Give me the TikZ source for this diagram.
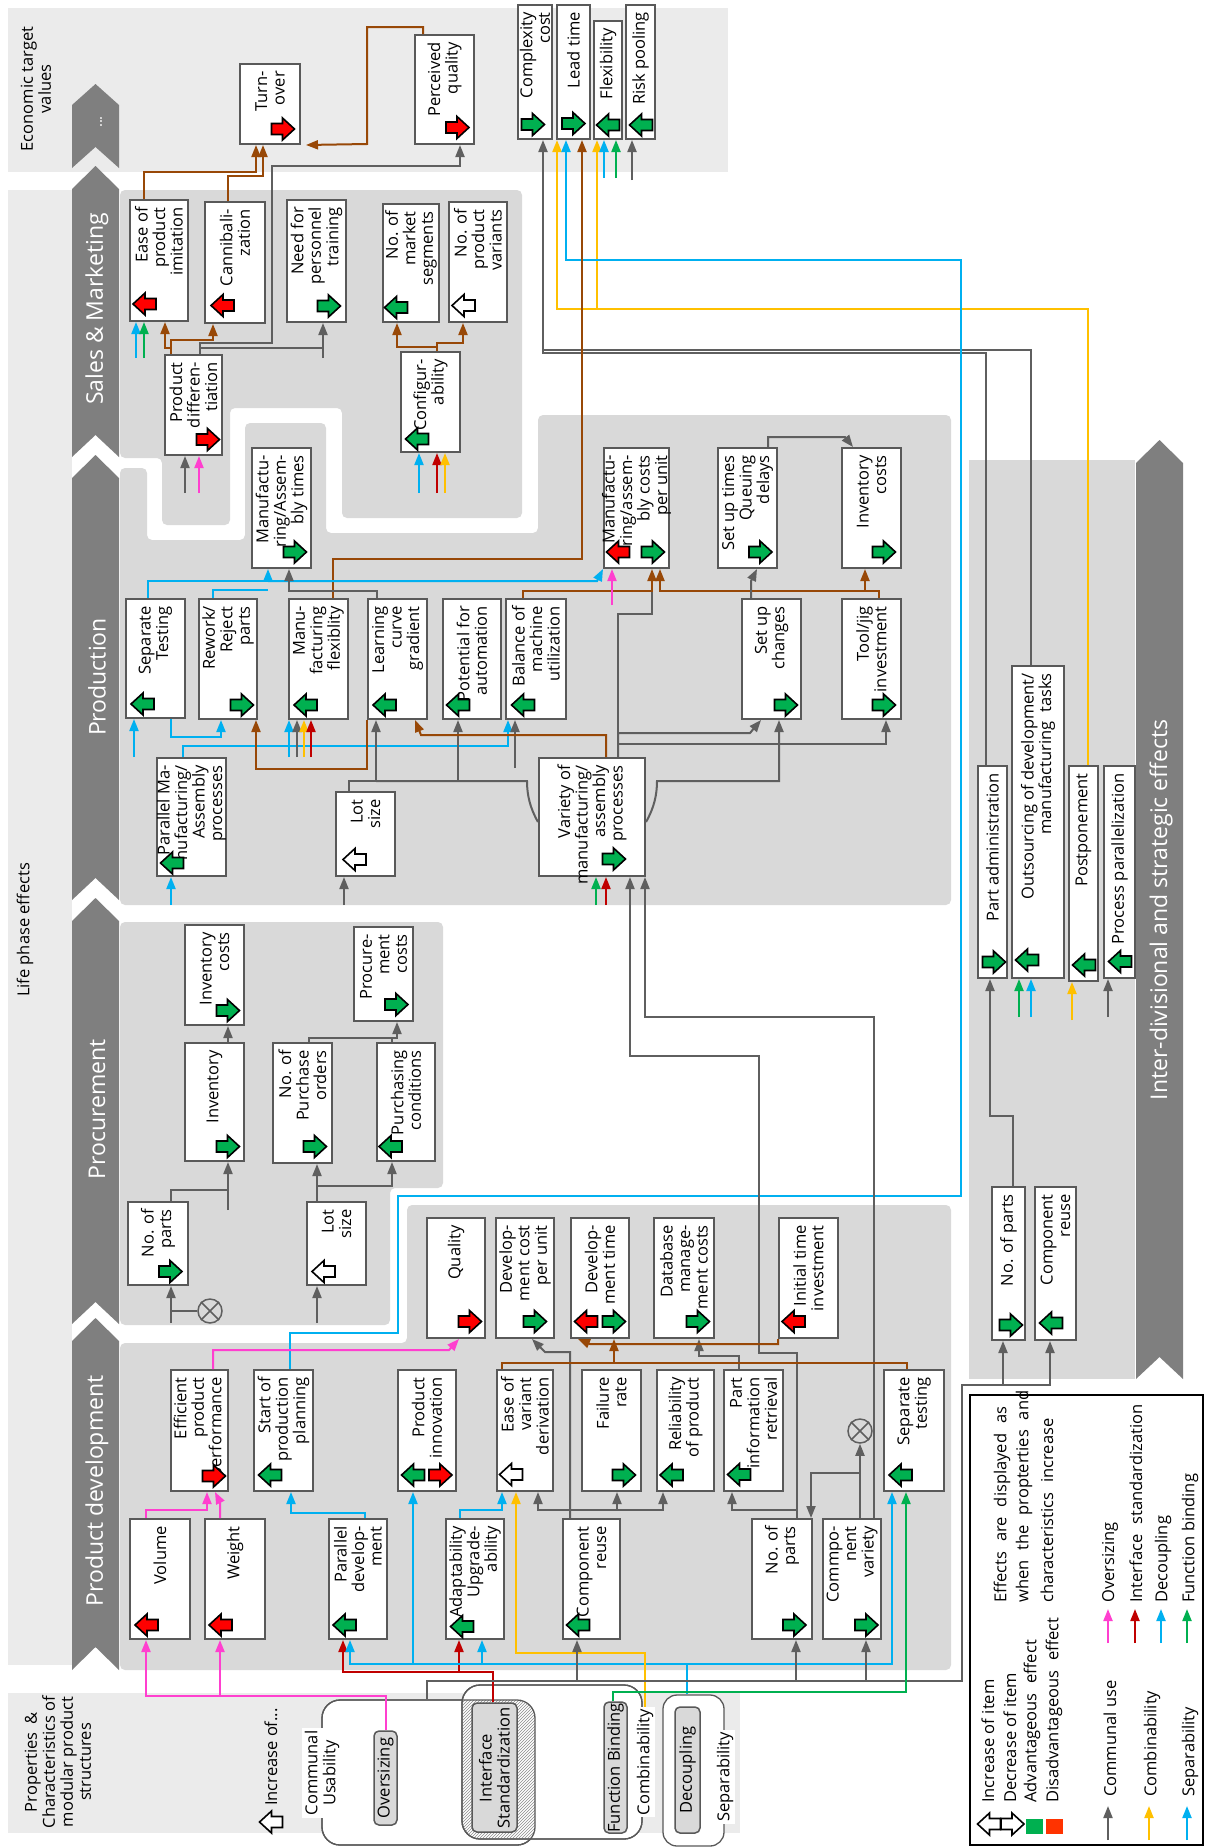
\documentclass[tikz,border=0pt]{standalone}
\usepackage{fontspec}
\setmainfont{Open Sans}
\usetikzlibrary{arrows.meta,patterns}
\definecolor{panelL}{HTML}{EBEBEB}
\definecolor{panelD}{HTML}{D9D9D9}
\definecolor{chevc}{HTML}{7F7F7F}
\definecolor{boxln}{HTML}{595959}
\definecolor{lnGr}{HTML}{5F5F5F}
\definecolor{lnBr}{HTML}{984807}
\definecolor{lnBl}{HTML}{00B0F0}
\definecolor{lnYe}{HTML}{FFC000}
\definecolor{lnGn}{HTML}{00B050}
\definecolor{lnPk}{HTML}{FF3FCF}
\definecolor{lnRd}{HTML}{C00000}
\definecolor{icG}{HTML}{00B050}
\definecolor{icR}{HTML}{FF0000}
\definecolor{sqR}{HTML}{FF3300}
\tikzset{
  box/.style={draw=boxln, line width=2pt, fill=white, inner sep=0pt},
  txt/.style={font=\fontsize{16.5}{17.5}\selectfont, align=right, inner sep=0pt, rotate=90, anchor=east},
  ctxt/.style={font=\fontsize{16.5}{18}\selectfont, align=center, inner sep=0pt, rotate=90},
  chevtxt/.style={font=\fontsize{23}{26}\selectfont, text=white, inner sep=0pt, rotate=90},
  lgt/.style={font=\fontsize{16.5}{18}\selectfont, inner sep=0pt, rotate=90, anchor=west},
  icon/.style={draw=black, line width=1.6pt, line join=miter},
  cGr/.style={draw=lnGr, line width=2pt},
  cBr/.style={draw=lnBr, line width=2pt},
  cBl/.style={draw=lnBl, line width=2pt},
  cYe/.style={draw=lnYe, line width=2pt},
  cGn/.style={draw=lnGn, line width=2pt},
  cPk/.style={draw=lnPk, line width=2pt},
  cRd/.style={draw=lnRd, line width=2pt},
  tp/.style={-{Triangle[length=12pt,width=9pt]}},
  grp/.style={draw=boxln, line width=1.3pt, fill=white, rounded corners=18pt, inner sep=0pt},
  pbox/.style={draw=boxln, line width=1.5pt, fill=panelD, rounded corners=5pt, inner sep=0pt},
  otim/.style={draw=lnGr, line width=1.5pt, circle, minimum size=24pt, inner sep=0pt}
}
\newcommand{\BX}[6]{%
  \node[box, minimum width={(#4-#2)*1pt}, minimum height={(#5-#3)*1pt}] (#1) at ({(#2+#4)/2},{(#3+#5)/2}) {};
  \node[txt] (#1t) at ({(#2+#4)/2},{#3+7}) {#6};}
\newcommand{\ICL}[3]{\draw[icon,fill=#3] ({#1-11.5},#2) -- ++(12,-11) -- ++(0,5.5) -- ++(11,0) -- ++(0,11) -- ++(-11,0) -- ++(0,5.5) -- cycle;}
\newcommand{\ICR}[3]{\draw[icon,fill=#3] ({#1+11.5},#2) -- ++(-12,-11) -- ++(0,5.5) -- ++(-11,0) -- ++(0,11) -- ++(11,0) -- ++(0,5.5) -- cycle;}
\newcommand{\CHEV}[4]{\fill[chevc] (72,#2) -- (95.5,#1) -- (119,#2) -- (119,#4) -- (95.5,#3) -- (72,#4) -- cycle;}
\newcommand{\OTX}[1]{\draw[lnGr, line width=1.5pt] (#1.north east) -- (#1.south west) (#1.north west) -- (#1.south east);}
\newcommand{\WS}{\hspace{0.6em}}
\begin{document}
\begin{tikzpicture}[x=1pt,y=-1pt]
\useasboundingbox (0,0) rectangle (1205,1847);
% ---------------- backgrounds
\fill[panelL] (8,8) rectangle (728,172);
\fill[panelL] (8,190) rectangle (72,1665);
\fill[panelL] (8,1693) rectangle (740,1833);
\fill[panelD, rounded corners=5pt] (120,190) -- (522,190) -- (522,518) -- (342,518) -- (342,408) -- (230,408) -- (230,525) -- (162,525) -- (162,458) -- (120,458) -- cycle;
\fill[panelD, rounded corners=5pt] (120,468) -- (147,468) -- (147,540) -- (245,540) -- (245,423) -- (326,423) -- (326,533) -- (538,533) -- (538,415) -- (951,415) -- (951,905) -- (120,905) -- cycle;
\fill[panelD, rounded corners=5pt] (120,922) -- (443,922) -- (443,1188) -- (390,1188) -- (390,1325) -- (120,1325) -- cycle;
\fill[panelD, rounded corners=5pt] (120,1343) -- (407,1343) -- (407,1205) -- (951,1205) -- (951,1670) -- (120,1670) -- cycle;
\fill[panelD] (969,460) rectangle (1135,1379);
% chevrons
\CHEV{84}{105}{147}{168}
\CHEV{166}{189}{435}{457}
\CHEV{455}{478}{878}{900}
\CHEV{898}{921}{1302}{1324}
\CHEV{1318}{1341}{1647}{1670}
\fill[chevc] (1136,463) -- (1159.5,440) -- (1183,463) -- (1183,1379) -- (1159.5,1357) -- (1136,1379) -- cycle;
\node[chevtxt, font=\fontsize{15}{17}\selectfont] (lbldots) at (101,122) {...};
\node[chevtxt] (lblsales) at (97,309) {Sales \& Marketing};
\node[chevtxt] (lblprod) at (97,677) {Production};
\node[chevtxt] (lblproc) at (97,1109) {Procurement};
\node[chevtxt] (lblpd) at (97,1491) {Product development};
\node[chevtxt] (lblinter) at (1161,910) {Inter-divisional and strategic effects};
% side labels
\node[ctxt] (econ) at (36,89) {Economic target\\values};
\node[ctxt] (life) at (25,930) {Life phase effects};
\node[ctxt] (props) at (58,1762) {Properties \ \&\\Characteristics of\\modular product\\structures};
% ---------------- properties groups
\node[grp, minimum width=213pt, minimum height=145pt] (comgrp) at (428.5,1772.5) {};
\node[grp, minimum width=180pt, minimum height=154pt] (combgrp) at (552,1762) {};
\node[grp, minimum width=61pt, minimum height=151pt, rounded corners=14pt] (sepgrp) at (693.5,1770.5) {};
\begin{scope}
\clip[rounded corners=18pt] (322,1700) rectangle (535,1845);
\fill[pattern=north east lines, pattern color=black!45, rounded corners=18pt] (462,1685) rectangle (642,1839);
\end{scope}
\draw[boxln, line width=1.3pt, rounded corners=18pt] (322,1700) rectangle (535,1845);
\draw[boxln, line width=1.3pt, rounded corners=18pt] (462,1685) rectangle (642,1839);
\node[pbox, minimum width=45pt, minimum height=129pt] (intstd) at (494.5,1767.5) {};
\node[ctxt] (intstdt) at (494.5,1768) {Interface\\Standardization};
\node[pbox, minimum width=23pt, minimum height=131pt] (fbbox) at (615.5,1767.5) {};
\node[ctxt] (fbboxt) at (615.5,1768) {Function Binding};
\node[pbox, minimum width=25pt, minimum height=126pt] (decbox) at (687.5,1770) {};
\node[ctxt] (decboxt) at (687.5,1770) {Decoupling};
\node[pbox, minimum width=23pt, minimum height=94pt] (oversz) at (385.5,1778) {};
\node[ctxt] (overszt) at (385.5,1778) {Oversizing};
\node[ctxt, fill=white, inner sep=3pt] (commtxt) at (322,1773) {Communal\\Usability};
\node[ctxt, fill=white, inner sep=2pt] (combtxt) at (645,1762) {Combinability};
\node[ctxt, fill=white, inner sep=2pt] (septxt) at (725,1777) {Separability};
\node[ctxt] (incr) at (271,1757) {Increase of...};
\ICL{271}{1822}{white}
% ---------------- boxes: economic
\BX{turnover}{240}{64}{300}{144}{Turn-\\over}
\BX{percq}{415}{35}{474}{144}{Perceived\\quality}
\BX{cplx}{518}{5}{552}{139}{Complexity\\cost}
\BX{lead}{557}{5}{590}{139}{Lead time}
\BX{flex}{594}{21}{622}{139}{Flexibility}
\BX{risk}{626}{5}{655}{139}{Risk pooling}
\ICR{283}{129}{icR} \ICR{457.5}{127.5}{icR} \ICR{533}{124.5}{icG} \ICR{573.5}{123.5}{icG}
\ICL{608}{125}{icG} \ICL{641}{125}{icG}
% sales
\BX{easeimit}{130}{200}{188}{321}{Ease of\\product\\imitation}
\BX{cannib}{205}{202}{265}{323}{Cannibali-\\zation}
\BX{needtrain}{287}{200}{346}{322}{Need for\\personnel\\training}
\BX{mktseg}{383}{204}{439}{322}{No. of\\market\\segments}
\BX{variants}{449}{202}{507}{322}{No. of\\product\\variants}
\BX{proddiff}{165}{355}{222}{455}{Product\\differen-\\tiation}
\BX{config}{401}{352}{460}{452}{Configur-\\ability}
\ICL{144.5}{304}{icR} \ICL{222.5}{305.5}{icR} \ICR{329}{306}{icG} \ICL{396}{307.5}{icG}
\ICL{463.5}{305.5}{white} \ICR{208}{439.5}{icR} \ICL{417}{439}{icG}
% production
\BX{mfgtimes}{252}{448}{311}{568}{Manufactu-\\ring/Assem-\\bly times}
\BX{mfgcost}{604}{448}{669}{568}{Manufactu-\\ring/assem-\\bly costs\\per unit}
\BX{setuptimes}{718}{448}{777}{568}{Set up times\\Queuing\\delays}
\BX{invcost1}{842}{448}{901}{568}{Inventory\\costs}
\BX{septest}{126}{599}{185}{718}{Separate\\Testing}
\BX{rework}{199}{599}{257}{719}{Rework/\\Reject\\parts}
\BX{mfgflex}{289}{599}{348}{719}{Manu-\\facturing\\flexiblity}
\BX{learn}{368}{599}{427}{719}{Learning\\curve\\gradient}
\BX{autom}{443}{599}{501}{719}{Potential for\\automation}
\BX{balance}{506}{599}{566}{719}{Balance of\\machine\\utilization}
\BX{setupch}{742}{599}{801}{719}{Set up\\changes}
\BX{tooljig}{842}{599}{901}{719}{Tool/jig\\investment}
\BX{parmfg}{157}{758}{226}{876}{Parallel Ma-\\nufacturing/\\Assembly\\processes}
\BX{lotsize1}{336}{792}{395}{876}{Lot\\size}
\BX{variety}{539}{758}{645}{876}{Variety of\\manufacturing/\\assembly\\processes}
\ICR{295}{552}{icG} \ICL{618}{552}{icR} \ICR{653}{552}{icG} \ICR{760.5}{552}{icG} \ICR{884}{552}{icG}
\ICL{142.5}{704}{icG} \ICR{242}{705}{icG} \ICL{305.5}{705}{icG} \ICL{384.5}{705}{icG}
\ICL{458}{705}{icG} \ICL{523}{705}{icG} \ICR{786}{705}{icG} \ICR{884}{705}{icG}
\ICL{172}{863}{icG} \ICL{354.5}{859.5}{white} \ICR{614}{859}{icG}
% inter-divisional
\BX{partadm}{978}{766}{1007}{978}{Part administration}
\BX{outsrc}{1012}{666}{1064}{978}{Outsourcing of development/\\manufacturing \ tasks}
\BX{postp}{1069}{766}{1098}{981}{Postponement}
\BX{procpar}{1104}{766}{1135}{978}{Process parallelization}
\BX{nparts3}{992}{1187}{1025}{1340}{No. of parts}
\BX{compreuse3}{1035}{1187}{1076}{1340}{Component\\reuse}
\ICR{994}{962}{icG} \ICL{1027}{960}{icG} \ICL{1084}{965}{icG} \ICL{1120}{961.5}{icG}
\ICR{1011}{1325}{icG} \ICL{1051}{1323}{icG}
% procurement
\BX{invcost2}{185}{925}{244}{1025}{Inventory\\costs}
\BX{proccost}{354}{927}{413}{1021}{Procure-\\ment\\costs}
\BX{inventory}{185}{1043}{244}{1161}{Inventory}
\BX{purchord}{273}{1043}{332}{1163}{No. of\\Purchase\\orders}
\BX{purchcond}{377}{1043}{435}{1161}{Purchasing\\conditions}
\BX{nparts2}{128}{1202}{188}{1285}{No. of\\parts}
\BX{lotsize2}{307}{1202}{366}{1285}{Lot\\size}
\ICR{228}{1010.5}{icG} \ICR{396.5}{1004.5}{icG} \ICR{228}{1146.5}{icG} \ICR{315}{1146.5}{icG}
\ICL{390.5}{1146.5}{icG} \ICR{170.5}{1271.5}{icG} \ICL{323.5}{1271.5}{white}
\node[otim] (ox1) at (210,1311) {}; \OTX{ox1}
% product development
\BX{quality}{427}{1218}{485}{1338}{Quality}
\BX{devcost}{496}{1218}{554}{1338}{Develop-\\ment cost\\per unit}
\BX{devtime}{571}{1218}{629}{1338}{Develop-\\ment time}
\BX{dbcost}{654}{1218}{714}{1338}{Database\\manage-\\ment costs}
\BX{inittime}{779}{1218}{838}{1338}{Initial time\\investment}
\BX{effperf}{171}{1370}{228}{1491}{Efficient\\product\\performance}
\BX{startprod}{254}{1370}{313}{1491}{Start of\\production\\planning}
\BX{prodinno}{398}{1370}{456}{1491}{Product\\innovation}
\BX{easevar}{497}{1370}{553}{1491}{Ease of\\variant\\derivation}
\BX{failure}{582}{1370}{641}{1491}{Failure\\rate}
\BX{reliab}{657}{1370}{714}{1491}{Reliability\\of product}
\BX{partinfo}{724}{1370}{783}{1491}{Part\\information\\retrieval}
\BX{septest2}{884}{1370}{944}{1491}{Separate\\testing}
\BX{volume}{130}{1519}{190}{1639}{Volume}
\BX{weight}{205}{1519}{265}{1639}{Weight}
\BX{pardev}{329}{1519}{387}{1639}{Parallel\\develop-\\ment}
\BX{adapt}{446}{1519}{504}{1639}{Adaptability\\Upgrade-\\ability}
\BX{compreuse}{563}{1519}{620}{1639}{Component\\reuse}
\BX{nparts}{752}{1519}{812}{1639}{No. of\\parts}
\BX{compvar}{823}{1519}{881}{1639}{Commpo-\\nent\\variety}
\ICR{470}{1321.5}{icR} \ICR{535}{1321.5}{icG} \ICL{586}{1321.5}{icR} \ICR{614}{1321.5}{icG}
\ICR{698}{1321.5}{icG} \ICL{793.5}{1321.5}{icR}
\ICR{214}{1476}{icR} \ICL{270}{1475}{icG} \ICL{413}{1475}{icG} \ICR{440.5}{1475}{icR}
\ICL{511}{1474.5}{white} \ICR{624}{1475}{icG} \ICL{671.5}{1475}{icG} \ICL{739}{1474.5}{icG}
\ICL{900.5}{1475}{icG}
\ICL{146.5}{1625}{icR} \ICL{220.5}{1625}{icR} \ICL{344.5}{1625}{icG} \ICL{462}{1626.5}{icG}
\ICL{578}{1625}{icG} \ICR{794.5}{1625}{icG} \ICR{866.5}{1625}{icG}
\node[otim] (ox2) at (860,1431) {}; \OTX{ox2}
% ---------------- connectors: economic / sales
\draw[cBr,tp] (easeimit.north -| 144,0) |- (256,172) -- (turnover.south -| 256,0);
\draw[cBr,tp] (cannib.north -| 228,0) |- (263,176) -- (turnover.south -| 263,0);
\draw[cBr,tp] (percq.north -| 423,0) |- (367,27) -- (367,144) -- ([xshift=5pt]turnover.south east);
\draw[cGr,tp] (proddiff.north -| 200,0) |- (272,343) |- (460,166) -- (percq.south -| 460,0);
\draw[cGr,tp] (proddiff.north -| 200,0) |- (323,348) -- (needtrain.south -| 323,0);
\draw[cGr] (323,358) -- (323,348);
\draw[cBr,tp] (proddiff.north -| 171,0) |- (165,348) -- (easeimit.south -| 165,0);
\draw[cBr,tp] (proddiff.north -| 171,0) |- (213,340) -- (cannib.south -| 213,0);
\draw[cBl,tp] (136,358) -- (easeimit.south -| 136,0);
\draw[cGn,tp] (144,358) -- (easeimit.south -| 144,0);
\draw[cGr,tp] (185,493) -- (proddiff.south -| 185,0);
\draw[cPk,tp] (199,493) -- (proddiff.south -| 199,0);
\draw[cBr,tp] (config.north -| 437,0) |- (397,347) -- (mktseg.south -| 397,0);
\draw[cBr,tp] (config.north -| 437,0) |- (463,343) -- (variants.south -| 463,0);
\draw[cBl,tp] (419,493) -- (config.south -| 419,0);
\draw[cRd,tp] (437,493) -- (config.south -| 437,0);
\draw[cYe,tp] (445,493) -- (config.south -| 445,0);
% to economic targets
\draw[cGr] (outsrc.north -| 1031,0) |- (543,350);
\draw[cGr,tp] (partadm.north -| 986,0) |- (543,353) -- (cplx.south -| 543,0);
\draw[cYe,tp] (postp.north -| 1088,0) |- (557,309) -- (lead.south -| 557,0);
\draw[cYe,tp] (597,309) -- (flex.south -| 597,0);
\draw[cBl,tp] (startprod.north -| 290,0) |- (398,1333) |- (961,1196) |- (566,260) -- (lead.south -| 566,0);
\draw[cBr,tp] (mfgflex.north -| 333,0) |- (582,559) -- (lead.south -| 582,0);
\draw[cBl,tp] (604,178) -- (flex.south -| 604,0);
\draw[cGn,tp] (616,178) -- (flex.south -| 616,0);
\draw[cGr,tp] (632,180) -- (risk.south -| 632,0);
% production
\draw[cBl,tp] (septest.north -| 148,0) |- (268,581) -- (mfgtimes.south -| 268,0);
\draw[cBl,tp] (268,581) -- (597,581) -- (mfgcost.south west);
\draw[cBl] (rework.north -| 213,0) |- (268,590);
\draw[cGr,tp] (learn.north -| 377,0) |- (289,591) -- (mfgtimes.south -| 289,0);
\draw[cBl,tp] (septest.south -| 171,0) |- (221,737) -- (rework.south -| 221,0);
\draw[cBl,tp] (134,757) -- (septest.south -| 134,0);
\draw[cBl,tp] (parmfg.north -| 183,0) |- (508,746) -- (balance.south -| 508,0);
\draw[cBl,tp] (289,757) -- (mfgflex.south -| 289,0);
\draw[cGr,tp] (297,757) -- (mfgflex.south -| 297,0);
\draw[cYe,tp] (304,757) -- (mfgflex.south -| 304,0);
\draw[cRd,tp] (311,757) -- (mfgflex.south -| 311,0);
\draw[cBl,tp] (171,905) -- (parmfg.south -| 171,0);
\draw[cBr,tp] (learn.south west) |- (256,769) -- (rework.south -| 256,0);
\draw[cGr,tp] (lotsize1.north -| 349,0) |- (376,781) -- (learn.south -| 376,0);
\draw[cGr] (variety.west |- 0,822) .. controls (530,808) and (527,795) .. (527,781) -- (376,781);
\draw[cGr,tp] (458,781) -- (autom.south -| 458,0);
\draw[cGr,tp] (variety.east |- 0,822) .. controls (654,808) and (657,795) .. (657,781) -| (setupch.south -| 779,0);
\draw[cGr,tp] (344,905) -- (lotsize1.south -| 344,0);
\draw[cGr,tp] (515,768) -- (balance.south -| 515,0);
\draw[cBr,tp] (variety.north -| 606,0) |- (421,735) -- ([xshift=-13pt]learn.south east);
\draw[cGr] (variety.north -| 618,0) |- (652,614) -- (652,591);
\draw[cBr,tp] (balance.north -| 523,0) |- (652,591) -- (mfgcost.south -| 652,0);
\draw[cBr,tp] (tooljig.north -| 879,0) |- (660,591) -- (mfgcost.south -| 660,0);
\draw[cBr,tp] (tooljig.north -| 879,0) |- (865,591) -- (invcost1.south -| 865,0);
\draw[cPk,tp] (612,605) -- (mfgcost.south -| 612,0);
\draw[cGr,tp] (variety.north -| 618,0) |- (750,733) -- ([xshift=20pt]setupch.south west);
\draw[cGr,tp] (variety.north -| 618,0) |- (886,744) -- (tooljig.south -| 886,0);
\draw[cGr,tp] (setupch.north -| 751,0) -- (751,581) -- ([xshift=40pt]setuptimes.south west);
\draw[cGr,tp] (setuptimes.north -| 768,0) |- (845,437) -- ([xshift=12pt]invcost1.north west);
\draw[cGr,tp] (compvar.north -| 874,0) |- (645,1017) -- (variety.south -| 645,0);
\draw[cGr,tp] (nparts.north -| 797,0) |- (759,1353) |- (630,1056) -- (variety.south -| 630,0);
\draw[cGn,tp] (596,905) -- (variety.south -| 596,0);
\draw[cRd,tp] (606,905) -- (variety.south -| 606,0);
% procurement
\draw[cGr,tp] (nparts2.north -| 171,0) |- (228,1190) -- (inventory.south -| 228,0);
\draw[cGr] (228,1210) -- (228,1190);
\draw[cGr,tp] (inventory.north -| 228,0) -- (invcost2.south -| 228,0);
\draw[cGr,tp] (lotsize2.north -| 317,0) -- (purchord.south -| 317,0);
\draw[cGr,tp] (lotsize2.north -| 317,0) |- (392,1186) -- (purchcond.south -| 392,0);
\draw[cGr,tp] (purchord.north -| 309,0) |- (397,1038) -- (proccost.south -| 397,0);
\draw[cGr] (purchcond.north -| 392,0) -- (392,1038);
\draw[cGr,tp] (171,1323) -- (nparts2.south -| 171,0);
\draw[cGr] (171,1311) -- (ox1.west);
\draw[cGr,tp] (317,1323) -- (lotsize2.south -| 317,0);
% product development
\draw[cPk,tp] (oversz.north) |- (146,1696) -- (volume.south -| 146,0);
\draw[cPk,tp] (220,1696) -- (weight.south -| 220,0);
\draw[cPk,tp] (volume.north -| 146,0) |- (207,1510) -- (effperf.south -| 207,0);
\draw[cPk,tp] (weight.north -| 220,0) -- (220,1502) -- ([xshift=45pt]effperf.south west);
\draw[cPk,tp] (effperf.north -| 213,0) |- (449,1350) -- ([xshift=33pt]quality.south west);
\draw[cBl,tp] (pardev.north -| 365,0) |- (291,1513) -- (startprod.south -| 291,0);
\draw[cRd,tp] (intstd.north -| 493,0) |- (343,1672) -- (pardev.south -| 343,0);
\draw[cRd,tp] (459,1672) -- (adapt.south -| 459,0);
\draw[cBl,tp] (sepgrp.north -| 687,0) |- (350,1664) -- (pardev.south -| 350,0);
\draw[cBl,tp] (413,1664) -- (prodinno.south -| 413,0);
\draw[cBl,tp] (482,1664) -- (adapt.south -| 482,0);
\draw[cBl,tp] (687,1664) -| (septest2.south -| 892,0);
\draw[cBl,tp] (adapt.north -| 460,0) |- (502,1510) -- (easevar.south -| 502,0);
\draw[cYe,tp] (combtxt.east) |- (516,1653) -- (easevar.south -| 516,0);
\draw[cGr,tp] (compreuse.north -| 570,0) |- (538,1510) -- (easevar.south -| 538,0);
\draw[cGr,tp] (570,1510) -| (failure.south -| 617,0);
\draw[cGr,tp] (617,1510) -| (reliab.south -| 663,0);
\draw[cGr,tp] (compreuse.north -| 570,0) |- (545,1352) -- ([xshift=37pt]devcost.south west);
\draw[cGr,tp] (comgrp.north -| 427,0) |- (962,1681) |- (1050,1385) -- (compreuse3.south -| 1050,0);
\draw[cGr,tp] (1003,1385) -- (nparts3.south -| 1003,0);
\draw[cGr,tp] (577,1681) -- (compreuse.south -| 577,0);
\draw[cGr,tp] (796,1681) -- (nparts.south -| 796,0);
\draw[cGr,tp] (866,1681) -- (compvar.south -| 866,0);
\draw[cGr,tp] (compvar.north -| 860,0) -- (ox2.south);
\draw[cGr,tp] (860,1473) -| (nparts.north -| 811,0);
\draw[cGr,tp] (797,1510) -| (partinfo.south -| 732,0);
\draw[cGr,tp] (partinfo.north -| 739,0) |- (699,1356) -- (dbcost.south -| 699,0);
\draw[cBr,tp] (inittime.south west) |- (590,1344) -- ([xshift=8pt]devtime.south west);
\draw[cBr,tp] (easevar.north -| 502,0) |- (614,1363) -- (devtime.south -| 614,0);
\draw[cBr] (septest2.north -| 907,0) |- (614,1363);
\draw[cGn,tp] (fbbox.north -| 613,0) |- (906,1692) -- (septest2.south -| 906,0);
% inter-divisional
\draw[cGr,tp] (nparts3.north -| 1013,0) |- (990,1116) -- (partadm.south -| 990,0);
\draw[cGn,tp] (1019,1017) -- (outsrc.south -| 1019,0);
\draw[cBl,tp] (1031,1017) -- (outsrc.south -| 1031,0);
\draw[cYe,tp] (1072,1020) -- (postp.south -| 1072,0);
\draw[cGr,tp] (1108,1017) -- (procpar.south -| 1108,0);
% ---------------- legend
\node[draw=black, line width=2pt, fill=white, minimum width=233pt, minimum height=450pt, inner sep=0pt] (legend) at (1086.5,1620) {};
\ICL{989}{1824}{white} \ICR{1012.5}{1824}{white}
\fill[icG] (1026,1819) rectangle (1043,1834);
\fill[sqR] (1046,1819) rectangle (1063,1834);
\node[lgt] (lg1) at (988,1803) {Increase of item};
\node[lgt] (lg2) at (1010,1803) {Decrease of item};
\node[lgt] (lg3) at (1032,1803) {Advantageous\WS effect};
\node[lgt] (lg4) at (1054,1803) {Disadvantageous\WS effect};
\node[lgt] (lg5) at (1002,1603) {Effects\WS are\WS displayed\WS as};
\node[lgt] (lg6) at (1024,1603) {when\WS the\WS propterties\WS and};
\node[lgt] (lg7) at (1047,1603) {characteristics\WS increase};
\node[lgt] (lg8) at (1110,1797) {Communal use};
\node[lgt] (lg9) at (1152,1797) {Combinability};
\node[lgt] (lg10) at (1190,1797) {Separability};
\node[lgt] (lg11) at (1110,1603) {Oversizing};
\node[lgt] (lg12) at (1136,1603) {Interface\WS standardization};
\node[lgt] (lg13) at (1163,1603) {Decoupling};
\node[lgt] (lg14) at (1190,1603) {Function binding};
\draw[cGr,tp] (1108,1840) -- (1108,1806);
\draw[cYe,tp] (1149,1840) -- (1149,1806);
\draw[cBl,tp] (1187,1840) -- (1187,1806);
\draw[cPk,tp] (1108,1643) -- (1108,1609);
\draw[cRd,tp] (1135,1643) -- (1135,1609);
\draw[cBl,tp] (1161,1643) -- (1161,1609);
\draw[cGn,tp] (1187,1643) -- (1187,1609);
\end{tikzpicture}
\end{document}
